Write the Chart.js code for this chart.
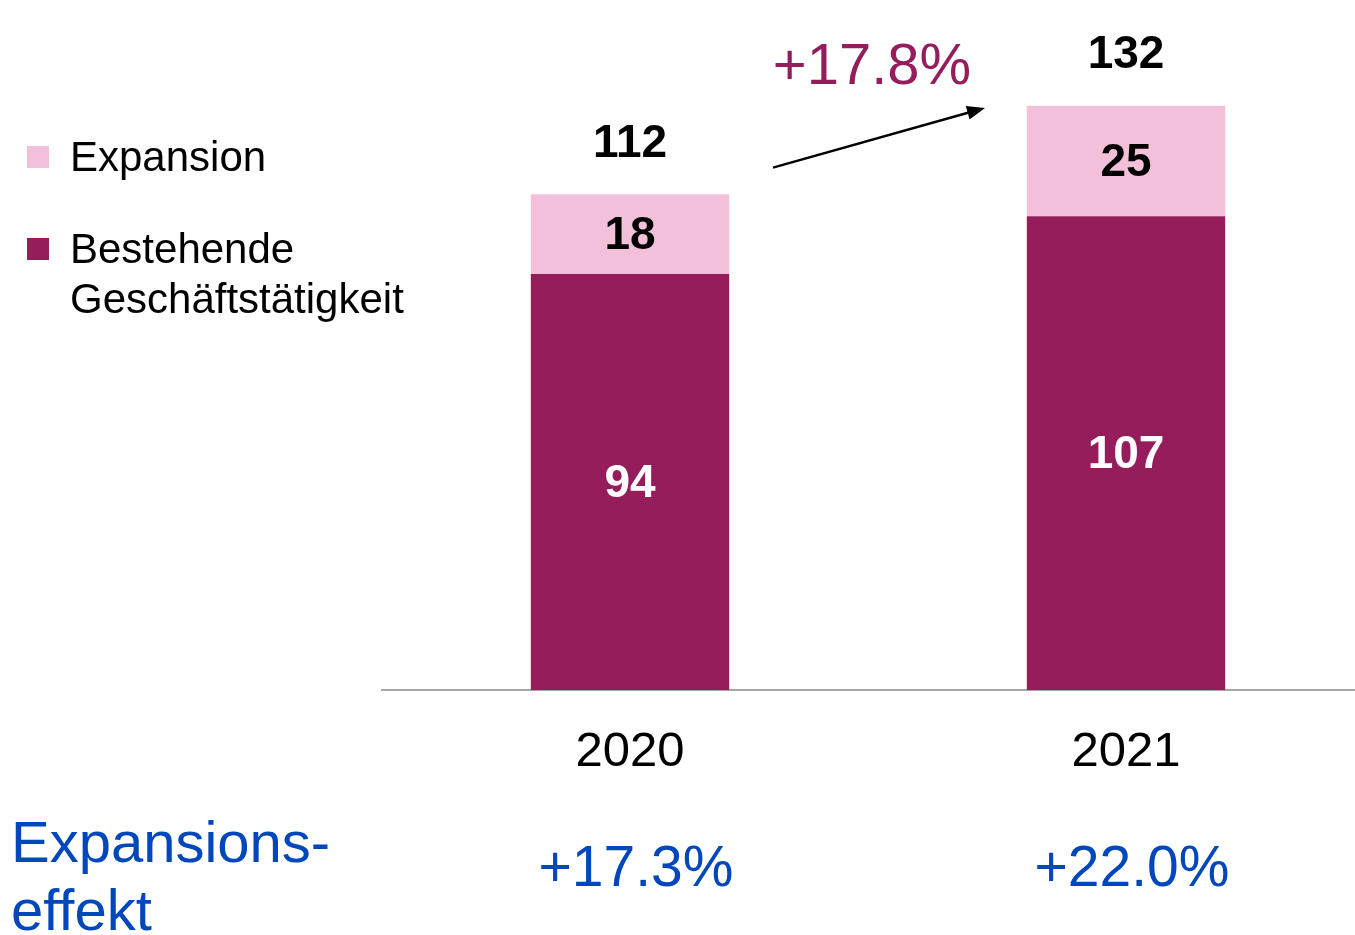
<!DOCTYPE html>
<html>
<head>
<meta charset="utf-8">
<script src="https://cdn.jsdelivr.net/npm/chart.js@4.4.1/dist/chart.umd.min.js"></script>
<style>
  html, body { margin: 0; padding: 0; background: #fff; overflow: hidden; }
  body { width: 1355px; height: 935px; position: relative; font-family: "Liberation Sans", Arial, sans-serif; }
  #wrap { position: absolute; left: 0; top: 0; width: 1374px; height: 935px; }
  .leg { position: absolute; left: 27px; font-size: 42px; line-height: 50px; color: #000; }
  .leg .sq { position: absolute; left: 0; top: 14px; width: 22px; height: 22px; }
  .leg .tx { position: absolute; left: 43px; top: 0; white-space: nowrap; }
  .blue { position: absolute; color: #0047bb; font-size: 57px; line-height: 68px; white-space: nowrap; }
</style>
</head>
<body>
<div id="wrap"><canvas id="bars"></canvas></div>

<div class="leg" style="top:132px"><div class="sq" style="background:#f3c0da"></div><div class="tx">Expansion</div></div>
<div class="leg" style="top:224px"><div class="sq" style="background:#951d5b"></div><div class="tx">Bestehende<br>Geschäftstätigkeit</div></div>

<div class="blue" style="left:11px;top:808px;font-size:58px">Expansions-<br>effekt</div>
<div class="blue" id="eff0" style="top:832px"></div>
<div class="blue" id="eff1" style="top:832px"></div>

<script>
let years = ["2020", "2021"];
let existing = [94, 107];
let expansion = [18, 25];
let totals = [112, 132];
let effect = ["+17.3%", "+22.0%"];
let growth = "+17.8%";

let darkColor = "#951d5b";
let pinkColor = "#f3c0da";

// value labels inside and above the bars, plus the growth arrow
let barLabels = {
    id: "barLabels",
    afterDatasetsDraw(chart) {
        let ctx = chart.ctx;
        let xs = chart.scales.x, ys = chart.scales.y;
        ctx.save();
        ctx.textAlign = "center";
        ctx.textBaseline = "middle";
        ctx.font = "bold 46px 'Liberation Sans', Arial, sans-serif";
        chart.data.datasets.forEach((ds, i) => {
            chart.getDatasetMeta(i).data.forEach((bar, j) => {
                ctx.fillStyle = i == 0 ? "#ffffff" : "#000000";
                ctx.fillText(ds.data[j], bar.x, (bar.y + bar.base) / 2 + 2);
            });
        });
        ctx.fillStyle = "#000";
        totals.forEach((t, j) => {
            ctx.fillText(t, xs.getPixelForValue(j), ys.getPixelForValue(t) - 50);
        });

        // arrow between the two totals
        let x1 = xs.getPixelForValue(0) + 143, y1 = ys.getPixelForValue(118);
        let x2 = xs.getPixelForValue(1) - 141, y2 = ys.getPixelForValue(131.5);
        ctx.strokeStyle = "#000";
        ctx.lineWidth = 2.5;
        let a = Math.atan2(y2 - y1, x2 - x1);
        ctx.beginPath();
        ctx.moveTo(x1, y1);
        ctx.lineTo(x2 - 14 * Math.cos(a), y2 - 14 * Math.sin(a));
        ctx.stroke();
        ctx.beginPath();
        ctx.moveTo(x2, y2);
        ctx.lineTo(x2 - 18 * Math.cos(a) + 7 * Math.sin(a), y2 - 18 * Math.sin(a) - 7 * Math.cos(a));
        ctx.lineTo(x2 - 18 * Math.cos(a) - 7 * Math.sin(a), y2 - 18 * Math.sin(a) + 7 * Math.cos(a));
        ctx.closePath();
        ctx.fillStyle = "#000";
        ctx.fill();

        ctx.fillStyle = darkColor;
        ctx.font = "58px 'Liberation Sans', Arial, sans-serif";
        ctx.fillText(growth, (xs.getPixelForValue(0) + xs.getPixelForValue(1)) / 2 - 6, 68);
        ctx.restore();

        // place the effect percentages under each year
        effect.forEach((e, j) => {
            let el = document.getElementById("eff" + j);
            el.textContent = e;
            el.style.left = (xs.getPixelForValue(j) + 6 - el.offsetWidth / 2) + "px";
        });
    }
};

let barsChart = new Chart(document.getElementById("bars").getContext("2d"), {
    type: "bar",
    data: {
        labels: years,
        datasets: [
            { label: "Bestehende Geschäftstätigkeit", data: existing, backgroundColor: darkColor },
            { label: "Expansion", data: expansion, backgroundColor: pinkColor }
        ]
    },
    options: {
        responsive: true,
        maintainAspectRatio: false,
        animation: false,
        events: [],
        layout: { padding: { left: 382, top: 26, right: 0, bottom: 0 } },
        datasets: { bar: { categoryPercentage: 1, barPercentage: 0.4 } },
        scales: {
            x: {
                stacked: true,
                grid: { display: false, drawTicks: false },
                border: { display: true, color: "#a6a6a6", width: 2 },
                ticks: {
                    color: "#000",
                    padding: 33,
                    font: { family: "'Liberation Sans', Arial, sans-serif", size: 49 }
                },
                afterFit: s => { s.height = 245; }
            },
            y: { stacked: true, display: false, min: 0, max: 150 }
        },
        plugins: { legend: { display: false }, tooltip: { enabled: false } }
    },
    plugins: [barLabels]
});
</script>
</body>
</html>
